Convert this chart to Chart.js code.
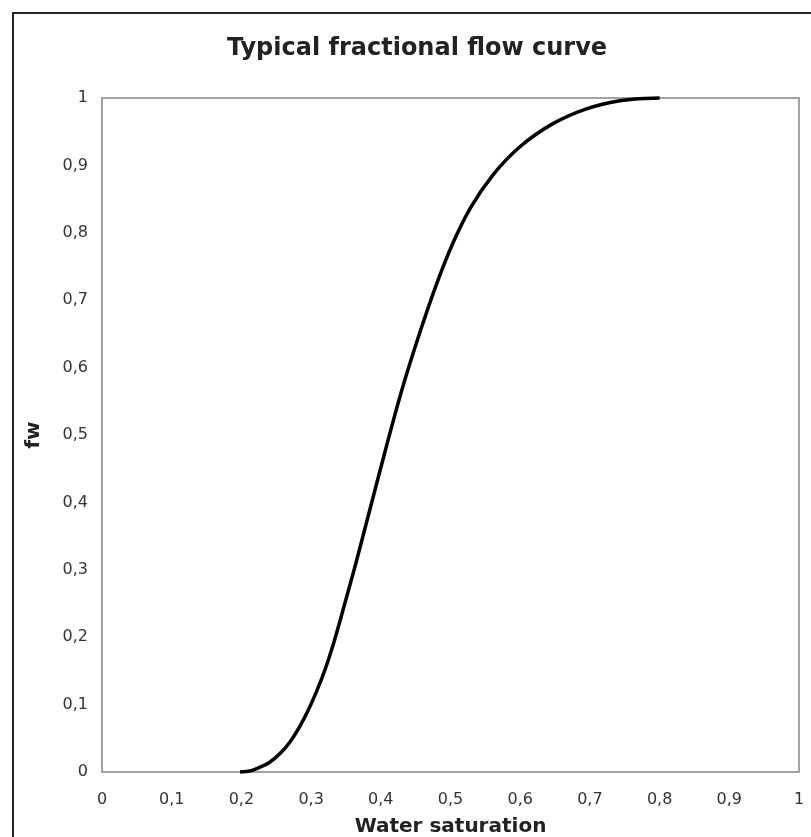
<!DOCTYPE html>
<html>
<head>
<meta charset="utf-8">
<script src="https://cdn.jsdelivr.net/npm/chart.js@4/dist/chart.umd.min.js"></script>
<style>
  html, body { margin: 0; padding: 0; background: #ffffff; }
  #wrap { width: 811px; height: 837px; }
</style>
</head>
<body>
<div id="wrap"><canvas id="c" width="811" height="837"></canvas></div>
<script>
const chartTitle = 'Typical fractional flow curve';
const xAxisTitle = 'Water saturation';
const yAxisTitle = 'fw';
const tickValues = [0, 0.1, 0.2, 0.3, 0.4, 0.5, 0.6, 0.7, 0.8, 0.9, 1];

// water saturation (x) and fractional flow fw (y)
const waterSaturation = [0.198, 0.21, 0.222, 0.24, 0.255, 0.27, 0.284, 0.296, 0.308, 0.32, 0.332, 0.346, 0.363, 0.385, 0.408, 0.43, 0.456, 0.48, 0.504, 0.528, 0.561, 0.6, 0.647, 0.695, 0.743, 0.77, 0.8];
const fractionalFlow  = [0, 0.001, 0.005, 0.014, 0.027, 0.045, 0.068, 0.092, 0.12, 0.152, 0.19, 0.241, 0.305, 0.392, 0.483, 0.566, 0.652, 0.724, 0.786, 0.836, 0.886, 0.928, 0.962, 0.984, 0.996, 0.999, 1.0];

const points = waterSaturation.map((x, i) => ({ x: x, y: fractionalFlow[i] }));

const fmt = v => String(Math.round(v * 10) / 10).replace('.', ',');

const framePlugin = {
  id: 'frames',
  beforeDraw(chart) {
    const ctx = chart.ctx;
    ctx.save();
    ctx.fillStyle = '#ffffff';
    ctx.fillRect(0, 0, chart.width, chart.height);
    // outer chart border (left and top visible)
    ctx.strokeStyle = '#222222';
    ctx.lineWidth = 2;
    ctx.beginPath();
    ctx.moveTo(13, chart.height);
    ctx.lineTo(13, 13);
    ctx.lineTo(chart.width, 13);
    ctx.stroke();
    // title
    ctx.fillStyle = '#222222';
    ctx.font = 'bold 24px "DejaVu Sans"';
    ctx.textAlign = 'center';
    ctx.textBaseline = 'middle';
    ctx.fillText(chartTitle, 417, 49);
    ctx.restore();
  },
  beforeDatasetsDraw(chart) {
    const a = chart.chartArea;
    const ctx = chart.ctx;
    ctx.save();
    ctx.strokeStyle = '#a3a3a3';
    ctx.lineWidth = 2;
    ctx.strokeRect(a.left, a.top, a.right - a.left, a.bottom - a.top);
    ctx.restore();
  }
};

new Chart(document.getElementById('c'), {
  type: 'scatter',
  data: {
    datasets: [{
      data: points,
      showLine: true,
      borderColor: '#000000',
      borderWidth: 3.5,
      pointRadius: 0,
      cubicInterpolationMode: 'monotone',
      fill: false,
      clip: 4
    }]
  },
  options: {
    responsive: false,
    animation: false,
    devicePixelRatio: 1,
    layout: { padding: { top: 98, right: 12, left: 0, bottom: 0 } },
    plugins: {
      legend: { display: false },
      title: { display: false },
      tooltip: { enabled: false }
    },
    scales: {
      x: {
        type: 'linear',
        min: 0, max: 1,
        afterBuildTicks: s => { s.ticks = tickValues.map(v => ({ value: v })); },
        afterFit: s => { s.height = 65; s.paddingLeft = 0; s.paddingRight = 0; },
        grid: { display: false, drawTicks: false, tickLength: 0 },
        border: { display: false },
        ticks: {
          padding: 18,
          maxRotation: 0,
          autoSkip: false,
          color: '#333333',
          font: { family: '"DejaVu Sans"', size: 16 },
          callback: v => fmt(v)
        },
        title: {
          display: true,
          text: xAxisTitle,
          color: '#222222',
          font: { family: '"DejaVu Sans"', size: 20, weight: 'bold', lineHeight: 1 },
          padding: { top: 0, bottom: 0 }
        }
      },
      y: {
        type: 'linear',
        min: 0, max: 1,
        afterBuildTicks: s => { s.ticks = tickValues.map(v => ({ value: v })); },
        afterFit: s => { s.width = 102; s.paddingTop = 0; s.paddingBottom = 0; },
        grid: { display: false, drawTicks: false, tickLength: 0 },
        border: { display: false },
        ticks: {
          padding: 14,
          autoSkip: false,
          color: '#333333',
          font: { family: '"DejaVu Sans"', size: 16 },
          callback: v => fmt(v)
        },
        title: {
          display: true,
          text: yAxisTitle,
          color: '#222222',
          font: { family: '"DejaVu Sans"', size: 20, weight: 'bold', lineHeight: 1.2 },
          padding: { top: 22, bottom: 0 }
        }
      }
    }
  },
  plugins: [framePlugin]
});
</script>
</body>
</html>
